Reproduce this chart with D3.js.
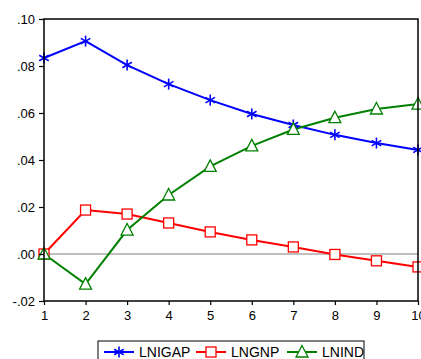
<script src="https://cdn.jsdelivr.net/npm/d3@7"></script>
<style>
body{margin:0;background:#fff;}
text{font-family:"Liberation Sans",Arial,sans-serif;fill:#000;}
</style>
<div id="container"></div>
<script type="text/javascript">

var periods = [1,2,3,4,5,6,7,8,9,10];
var lnigap = [0.0834,0.0906,0.0804,0.0723,0.0655,0.0596,0.0549,0.0507,0.0472,0.0443];
var lngnp  = [0.0000,0.0187,0.0170,0.0132,0.0094,0.0060,0.0030,-0.0002,-0.0029,-0.0055];
var lnind  = [0.0000,-0.0128,0.0102,0.0251,0.0373,0.0460,0.0530,0.0580,0.0617,0.0638];
var yTicks = [-0.02,0.00,0.02,0.04,0.06,0.08,0.10];
var seriesNames = ["LNIGAP","LNGNP","LNIND"];
var seriesColors = ["#0000ff","#ff0000","#008000"];
var seriesShapes = ["star","square","triangle"];

var width = 421, height = 359;
var plotL = 44, plotR = 418, plotT = 19, plotB = 301;

var svg = d3.select('#container')
  .append('svg')
  .attr('width', width)
  .attr('height', height);

var x = d3.scaleLinear().domain([1,10]).range([plotL,plotR]);
var y = d3.scaleLinear().domain([-0.02,0.10]).range([plotB,plotT]);

// EViews style: ".08", "-.02"
var fmt = d => (d < 0 ? "-" : "") + Math.abs(d).toFixed(2).replace(/^0/, "");

// zero line
svg.append("line")
  .attr("x1", plotL).attr("x2", plotR)
  .attr("y1", y(0)).attr("y2", y(0))
  .attr("stroke", "#808080").attr("stroke-width", 1.2);

var allSeries = [lnigap, lngnp, lnind];
var line = d3.line().x((d,i)=>x(periods[i])).y(d=>y(d));

function marker(g, shape, color){
  if(shape=="star"){
    var r = 5.5;
    [30,90,150].forEach(a=>{
      var rad = a*Math.PI/180;
      g.append("line")
        .attr("x1", -r*Math.cos(rad)).attr("y1", -r*Math.sin(rad))
        .attr("x2", r*Math.cos(rad)).attr("y2", r*Math.sin(rad))
        .attr("stroke", color).attr("stroke-width", 1.6);
    });
  } else if(shape=="square"){
    g.append("rect").attr("x",-5).attr("y",-5).attr("width",10).attr("height",10)
      .attr("fill","#fff").attr("stroke",color).attr("stroke-width",1.3);
  } else {
    g.append("path").attr("d","M0,-6.5L6,5L-6,5Z")
      .attr("fill","#fff").attr("stroke",color).attr("stroke-width",1.3);
  }
}

allSeries.forEach((vals,k)=>{
  svg.append("path")
    .attr("d", line(vals))
    .attr("fill","none")
    .attr("stroke", seriesColors[k])
    .attr("stroke-width", 2);
});
allSeries.forEach((vals,k)=>{
  vals.forEach((v,i)=>{
    var g = svg.append("g").attr("transform","translate("+x(periods[i])+","+y(v)+")");
    marker(g, seriesShapes[k], seriesColors[k]);
  });
});

// frame
svg.append("rect")
  .attr("x", plotL).attr("y", plotT)
  .attr("width", plotR-plotL).attr("height", plotB-plotT)
  .attr("fill","none").attr("stroke","#000").attr("stroke-width",1.5);

// axes
var yAxis = svg.append("g").attr("transform","translate("+plotL+",0)")
  .call(d3.axisLeft(y).tickValues(yTicks).tickFormat(fmt).tickSize(5).tickPadding(4));
var xAxis = svg.append("g").attr("transform","translate(0,"+plotB+")")
  .call(d3.axisBottom(x).tickValues(periods).tickFormat(d3.format("d")).tickSize(4).tickPadding(6));
[yAxis,xAxis].forEach(a=>{
  a.select(".domain").remove();
  a.selectAll("line").attr("stroke","#000").attr("stroke-width",1.2);
  a.selectAll("text").attr("font-size","13px").attr("font-family","Liberation Sans, Arial, sans-serif").attr("fill","#000");
});

// legend
var legend = svg.append("g");
legend.append("rect")
  .attr("x", 98).attr("y", 341).attr("width", 266).attr("height", 24)
  .attr("fill","#fff").attr("stroke","#000").attr("stroke-width",1);
var legX = [104, 196, 287];
seriesNames.forEach((n,k)=>{
  var g = legend.append("g").attr("transform","translate("+legX[k]+",352)");
  g.append("line").attr("x1",0).attr("x2",30).attr("y1",0).attr("y2",0)
    .attr("stroke",seriesColors[k]).attr("stroke-width",2);
  var m = g.append("g").attr("transform","translate(15,0)");
  marker(m, seriesShapes[k], seriesColors[k]);
  g.append("text").attr("x",35).attr("y",5).attr("font-size","14px").text(n);
});

</script>
